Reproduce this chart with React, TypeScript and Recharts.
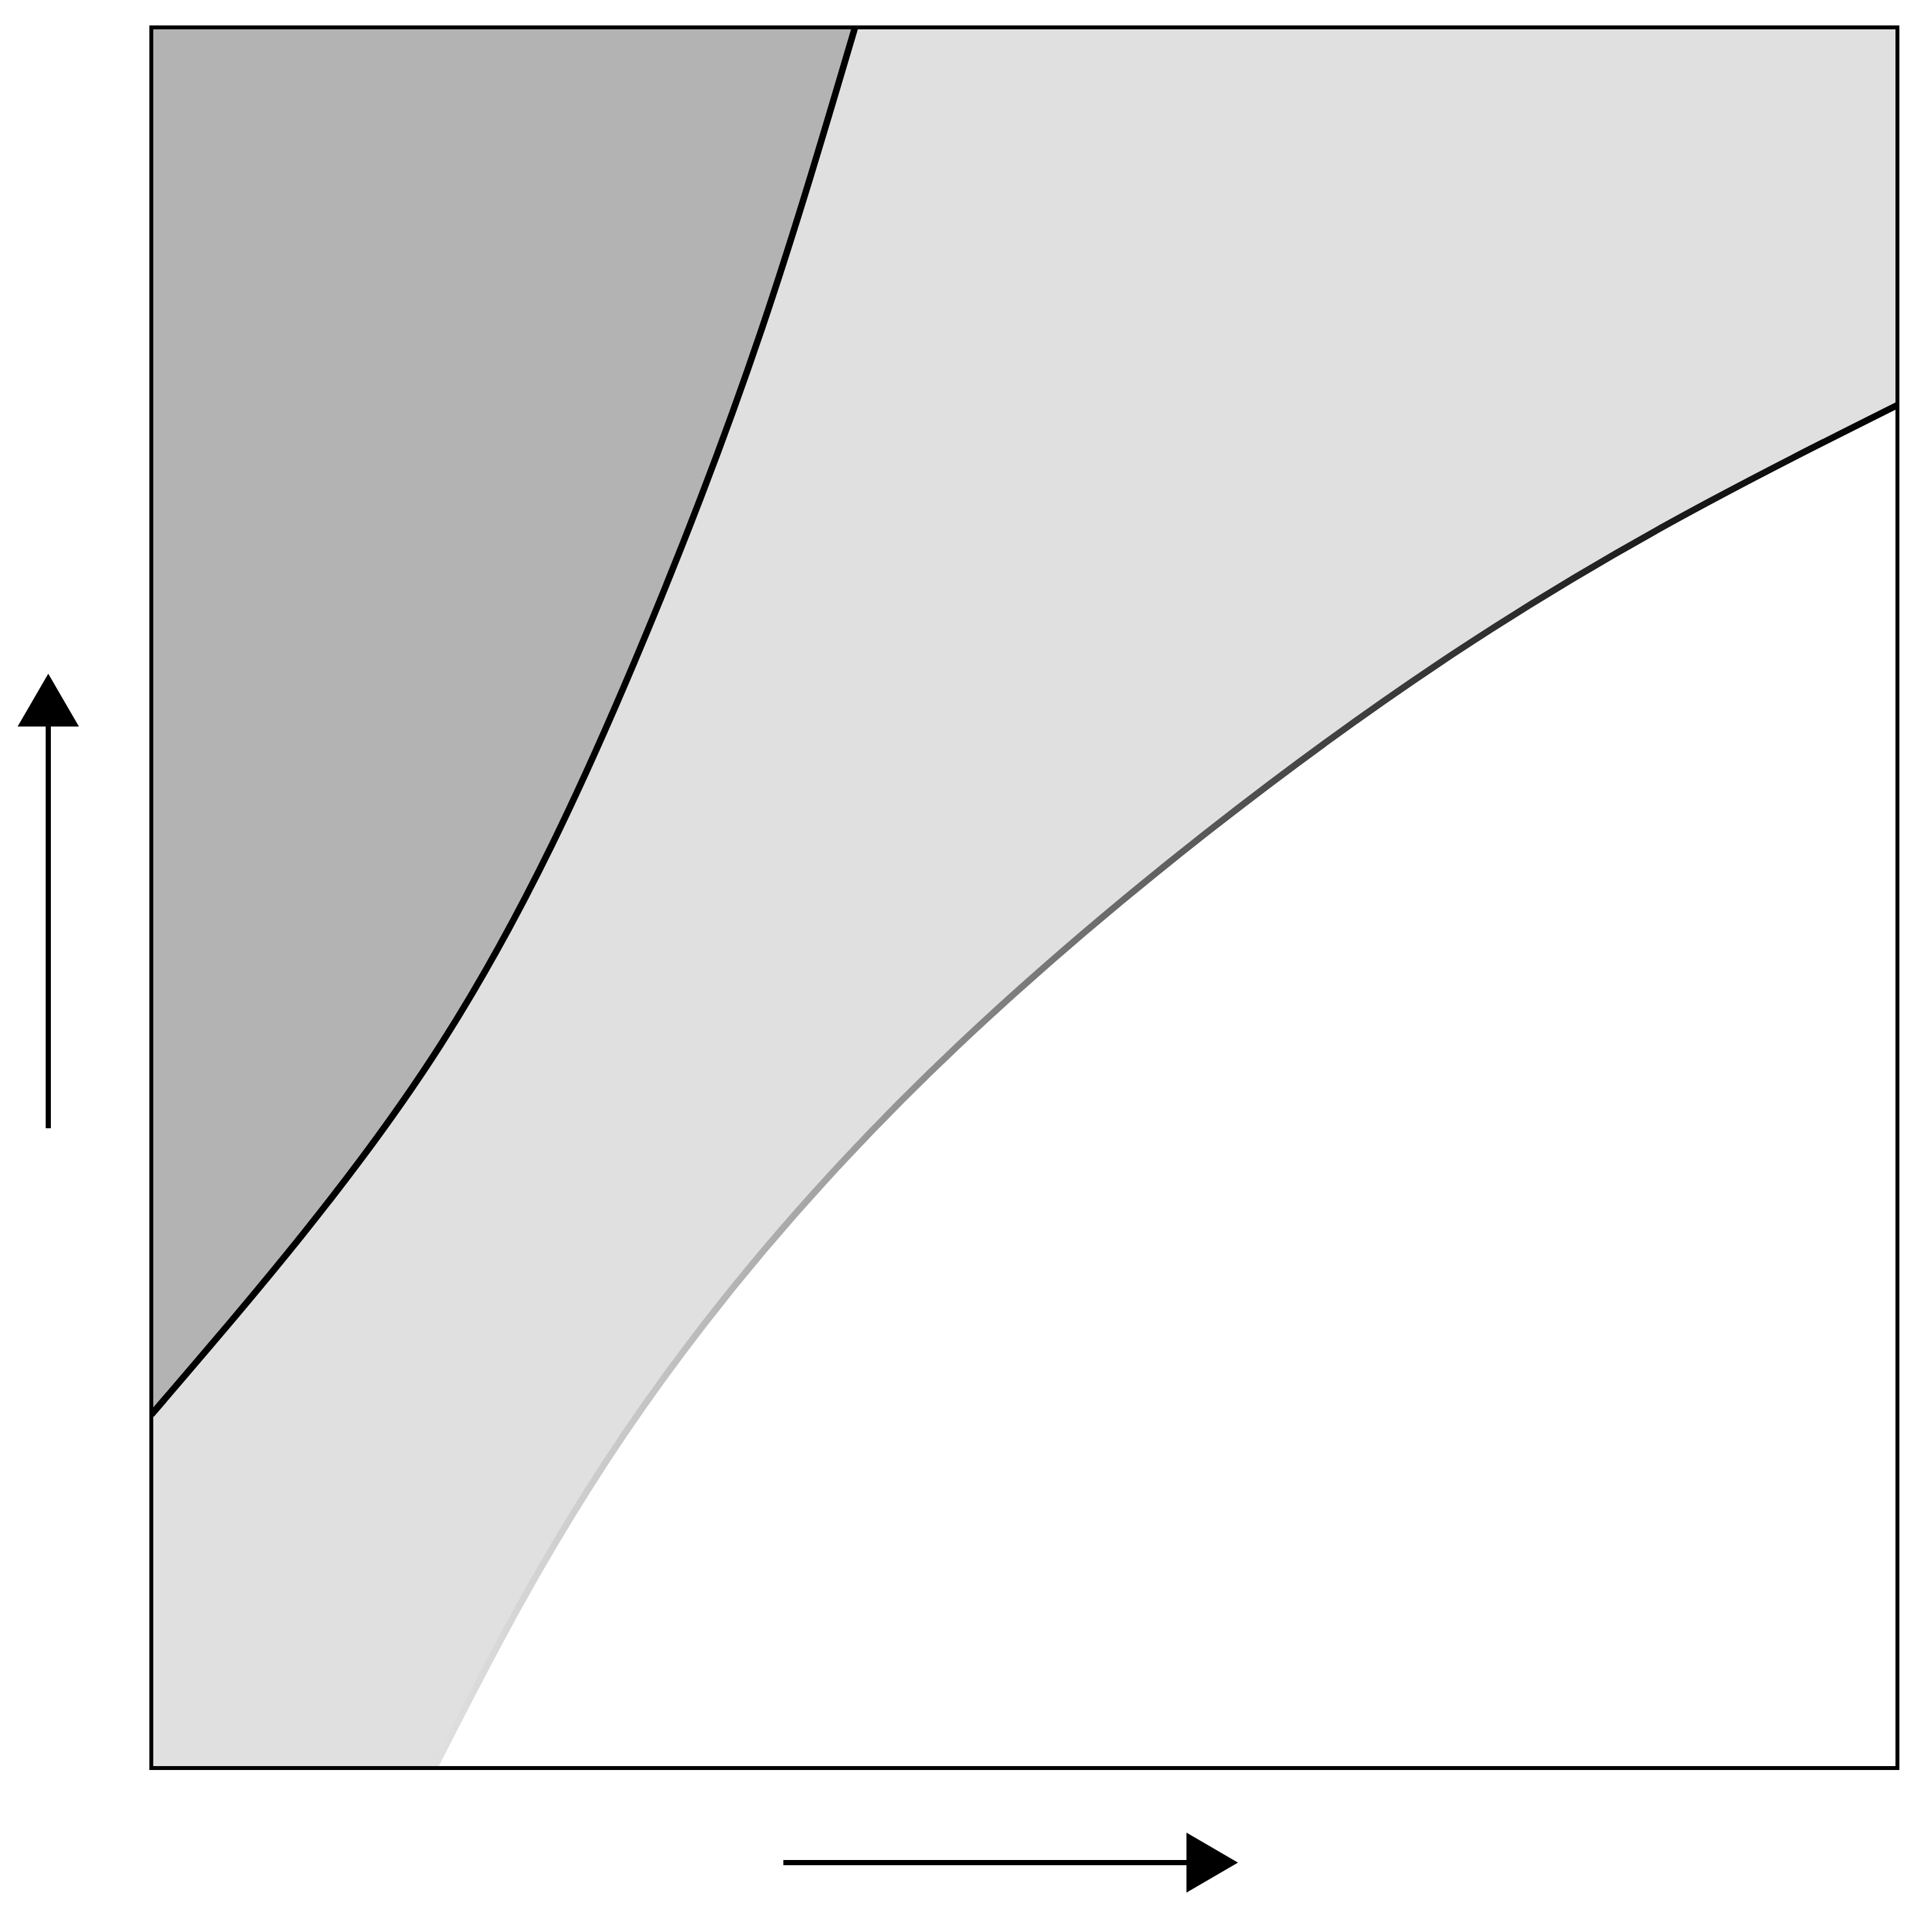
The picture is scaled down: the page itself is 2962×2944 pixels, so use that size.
import { ComposedChart, Area, XAxis, YAxis, CartesianGrid } from "recharts";

// boundary curves, in plot units (0..1 on both axes)
const upperX = [0, 0.166, 0.279, 0.35, 0.403];
const upperY = [0.203, 0.416, 0.641, 0.828, 1];
const lowerX = [0.162, 0.271, 0.463, 0.747, 1];
const lowerY = [0, 0.192, 0.416, 0.641, 0.783];

const xs = Array.from(new Set([...upperX, ...lowerX])).sort((a, b) => a - b);
const data = xs.map((x) => {
  const ui = upperX.indexOf(x);
  const li = lowerX.indexOf(x);
  return {
    x,
    upper: ui >= 0 ? upperY[ui] : null,
    lower: li >= 0 ? lowerY[li] : null,
  };
});

const XArrow = (props: any) => {
  const vb = props.viewBox;
  const y = vb.y + 145;
  const x0 = vb.x + 969;
  const x1 = vb.x + 1587;
  const tip = vb.x + 1666;
  return (
    <g>
      <line x1={x0} y1={y} x2={x1} y2={y} stroke="#000" strokeWidth={8} />
      <polygon points={`${x1},${y - 46} ${tip},${y} ${x1},${y + 46}`} fill="#000" />
    </g>
  );
};

const YArrow = (props: any) => {
  const vb = props.viewBox;
  const x = vb.x + vb.width - 158;
  const y0 = vb.y + 1688;
  const y1 = vb.y + 1072;
  const tip = vb.y + 991;
  return (
    <g>
      <line x1={x} y1={y0} x2={x} y2={y1} stroke="#000" strokeWidth={8} />
      <polygon points={`${x - 47},${y1} ${x},${tip} ${x + 47},${y1}`} fill="#000" />
    </g>
  );
};

const border = { stroke: "#000", strokeWidth: 6, strokeLinecap: "square" as const };

export default function App() {
  return (
    <div style={{ position: "absolute", left: 0, top: 0, background: "#fff" }}>
      <ComposedChart
        width={2962}
        height={2944}
        data={data}
        margin={{ top: 41, left: 231, right: 52, bottom: 232 }}
      >
        <defs>
          <linearGradient id="lowGrad" x1="0" y1="0" x2="1" y2="0">
            <stop offset="0" stopColor="#e0e0e0" />
            <stop offset="0.15" stopColor="#c4c4c4" />
            <stop offset="0.35" stopColor="#8a8a8a" />
            <stop offset="0.6" stopColor="#444" />
            <stop offset="0.8" stopColor="#222" />
            <stop offset="1" stopColor="#000" />
          </linearGradient>
        </defs>
        <CartesianGrid horizontal={false} vertical={false} fill="#e0e0e0" />
        <Area
          dataKey="upper"
          type="natural"
          baseValue={1}
          fill="#b3b3b3"
          fillOpacity={1}
          stroke="#000"
          strokeWidth={10}
          connectNulls
          dot={false}
          activeDot={false}
          isAnimationActive={false}
        />
        <Area
          dataKey="lower"
          type="natural"
          fill="#fff"
          fillOpacity={1}
          stroke="url(#lowGrad)"
          strokeWidth={10}
          connectNulls
          dot={false}
          activeDot={false}
          isAnimationActive={false}
        />
        <XAxis
          dataKey="x"
          type="number"
          domain={[0, 1]}
          allowDataOverflow
          height={1}
          tick={false}
          tickLine={false}
          axisLine={border}
          label={{ content: XArrow }}
        />
        <XAxis
          xAxisId="top"
          orientation="top"
          dataKey="x"
          type="number"
          domain={[0, 1]}
          height={1}
          tick={false}
          tickLine={false}
          axisLine={border}
        />
        <YAxis
          type="number"
          domain={[0, 1]}
          allowDataOverflow
          width={1}
          tick={false}
          tickLine={false}
          axisLine={border}
          label={{ content: YArrow }}
        />
        <YAxis
          yAxisId="right"
          orientation="right"
          type="number"
          domain={[0, 1]}
          width={1}
          tick={false}
          tickLine={false}
          axisLine={border}
        />
      </ComposedChart>
    </div>
  );
}
